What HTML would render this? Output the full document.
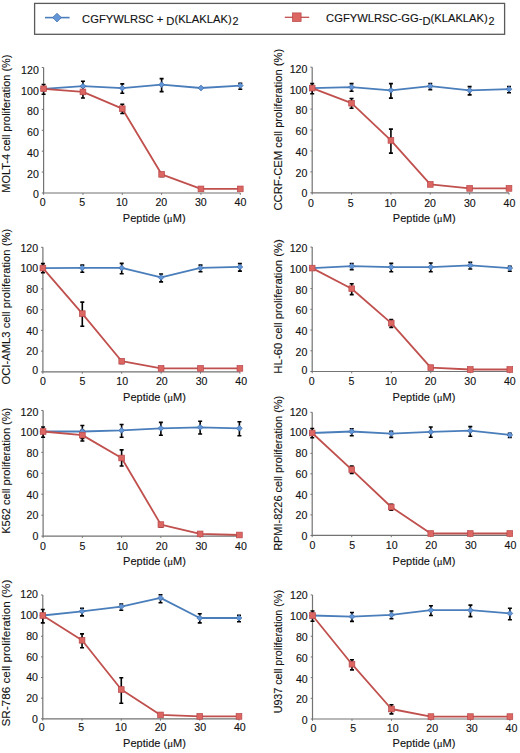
<!DOCTYPE html>
<html><head><meta charset="utf-8"><title>Figure</title>
<style>
html,body{margin:0;padding:0;background:#fff;}
body{width:520px;height:753px;overflow:hidden;}
svg{display:block;}
text{font-family:"Liberation Sans",sans-serif;fill:#111;stroke:#111;stroke-width:0.12px;}
.t{font-size:10.6px;}
.xl{font-size:11px;}
.yl{font-size:11px;}
.lg{font-size:11.2px;}
.sub{font-size:10.8px;}
.mu{font-family:"Liberation Serif",serif;}
</style></head>
<body>
<svg width="520" height="753" viewBox="0 0 520 753">
<rect width="520" height="753" fill="#fff"/>

<rect x="34.6" y="3.4" width="470" height="30.9" fill="#fff" stroke="#5a5a5a" stroke-width="1.3"/>
<path d="M45 17.6H69.6" stroke="#4a7ebb" stroke-width="1.6"/>
<path d="M57 13.2L61.4 17.6L57 22L52.6 17.6Z" fill="#6396d6" stroke="#3d6cab" stroke-width="0.7"/>
<text x="82.1" y="22.5" class="lg">CGFYWLRSC + <tspan dy="2.7">D</tspan><tspan dy="-2.7">(KLAKLAK)</tspan><tspan class="sub" dx="0.8" dy="2.2">2</tspan></text>
<path d="M284.8 17.3H309.2" stroke="#c0504d" stroke-width="1.3"/>
<rect x="292.4" y="12.9" width="8.7" height="8.7" fill="#dc6662" stroke="#b8474a" stroke-width="0.7"/>
<text x="326.1" y="22.1" class="lg">CGFYWLRSC-GG-<tspan dy="3.2">D</tspan><tspan dy="-3.2">(KLAKLAK)</tspan><tspan class="sub" dx="0.8" dy="2.6">2</tspan></text>

<path d="M43.6 67.5V193H240.3" fill="none" stroke="#737373" stroke-width="1.2"/>
<path d="M41.8 67.5h1.8M41.8 88.42h1.8M41.8 109.33h1.8M41.8 130.25h1.8M41.8 151.17h1.8M41.8 172.08h1.8M41.8 193h1.8M43.6 193v1.8M82.94 193v1.8M122.28 193v1.8M161.62 193v1.8M200.96 193v1.8M240.3 193v1.8" stroke="#737373" stroke-width="1"/>
<text x="38.8" y="74" class="t" text-anchor="end">120</text>
<text x="38.8" y="94.7" class="t" text-anchor="end">100</text>
<text x="38.8" y="115.4" class="t" text-anchor="end">80</text>
<text x="38.8" y="136.1" class="t" text-anchor="end">60</text>
<text x="38.8" y="156.8" class="t" text-anchor="end">40</text>
<text x="38.8" y="177.5" class="t" text-anchor="end">20</text>
<text x="38.8" y="198.1" class="t" text-anchor="end">0</text>
<text x="42.7" y="206.4" class="t" text-anchor="middle">0</text>
<text x="82.24" y="206.4" class="t" text-anchor="middle">5</text>
<text x="121.78" y="206.4" class="t" text-anchor="middle">10</text>
<text x="161.32" y="206.4" class="t" text-anchor="middle">20</text>
<text x="200.86" y="206.4" class="t" text-anchor="middle">30</text>
<text x="240.4" y="206.4" class="t" text-anchor="middle">40</text>
<text x="154.2" y="221.6" class="xl" text-anchor="middle">Peptide (<tspan class="mu">μ</tspan>M)</text>
<text transform="translate(9.9 123.65) rotate(-90)" x="0" y="0" text-anchor="middle" style="font-size:10.91px" class="yl">MOLT-4 cell proliferation (%)</text>
<path d="M43.6 88.8 L82.94 86.2 L122.28 88.1 L161.62 84.7 L200.96 88 L240.3 85.6" fill="none" stroke="#4a7ebb" stroke-width="1.8" stroke-linejoin="round"/>
<path d="M43.6 88.8 L82.94 91.9 L122.28 108.7 L161.62 174.3 L200.96 188.9 L240.3 188.9" fill="none" stroke="#c0504d" stroke-width="1.8" stroke-linejoin="round"/>
<path d="M82.94 81.2V92" stroke="#000" stroke-width="1.6" fill="none"/>
<path d="M80.94 81.2h4M80.94 92h4" stroke="#000" stroke-width="1.6" fill="none"/>
<path d="M122.28 83.9V93.3" stroke="#000" stroke-width="1.6" fill="none"/>
<path d="M120.28 83.9h4M120.28 93.3h4" stroke="#000" stroke-width="1.6" fill="none"/>
<path d="M161.62 78.6V91.6" stroke="#000" stroke-width="1.6" fill="none"/>
<path d="M159.62 78.6h4M159.62 91.6h4" stroke="#000" stroke-width="1.6" fill="none"/>
<path d="M240.3 83.2V89.3" stroke="#000" stroke-width="1.6" fill="none"/>
<path d="M238.3 83.2h4M238.3 89.3h4" stroke="#000" stroke-width="1.6" fill="none"/>
<path d="M43.6 84.5V94.2" stroke="#000" stroke-width="1.6" fill="none"/>
<path d="M41.6 84.5h4M41.6 94.2h4" stroke="#000" stroke-width="1.6" fill="none"/>
<path d="M82.94 86.6V98" stroke="#000" stroke-width="1.6" fill="none"/>
<path d="M80.94 86.6h4M80.94 98h4" stroke="#000" stroke-width="1.6" fill="none"/>
<path d="M122.28 104.3V113.5" stroke="#000" stroke-width="1.6" fill="none"/>
<path d="M120.28 104.3h4M120.28 113.5h4" stroke="#000" stroke-width="1.6" fill="none"/>
<path d="M161.62 172.8V176.5" stroke="#000" stroke-width="1.6" fill="none"/>
<path d="M159.62 172.8h4M159.62 176.5h4" stroke="#000" stroke-width="1.6" fill="none"/>
<path d="M43.6 85.9L46.5 88.8L43.6 91.7L40.7 88.8Z" fill="#6396d6" stroke="#3d6cab" stroke-width="0.7"/>
<path d="M82.94 83.3L85.84 86.2L82.94 89.1L80.04 86.2Z" fill="#6396d6" stroke="#3d6cab" stroke-width="0.7"/>
<path d="M122.28 85.2L125.18 88.1L122.28 91L119.38 88.1Z" fill="#6396d6" stroke="#3d6cab" stroke-width="0.7"/>
<path d="M161.62 81.8L164.52 84.7L161.62 87.6L158.72 84.7Z" fill="#6396d6" stroke="#3d6cab" stroke-width="0.7"/>
<path d="M200.96 85.1L203.86 88L200.96 90.9L198.06 88Z" fill="#6396d6" stroke="#3d6cab" stroke-width="0.7"/>
<path d="M240.3 82.7L243.2 85.6L240.3 88.5L237.4 85.6Z" fill="#6396d6" stroke="#3d6cab" stroke-width="0.7"/>
<rect x="40.75" y="85.95" width="5.7" height="5.7" fill="#dc6662" stroke="#b8474a" stroke-width="0.7"/>
<rect x="80.09" y="89.05" width="5.7" height="5.7" fill="#dc6662" stroke="#b8474a" stroke-width="0.7"/>
<rect x="119.43" y="105.85" width="5.7" height="5.7" fill="#dc6662" stroke="#b8474a" stroke-width="0.7"/>
<rect x="158.77" y="171.45" width="5.7" height="5.7" fill="#dc6662" stroke="#b8474a" stroke-width="0.7"/>
<rect x="198.11" y="186.05" width="5.7" height="5.7" fill="#dc6662" stroke="#b8474a" stroke-width="0.7"/>
<rect x="237.45" y="186.05" width="5.7" height="5.7" fill="#dc6662" stroke="#b8474a" stroke-width="0.7"/>
<path d="M312.2 67.2V192.8H509" fill="none" stroke="#737373" stroke-width="1.2"/>
<path d="M310.4 67.2h1.8M310.4 88.13h1.8M310.4 109.07h1.8M310.4 130h1.8M310.4 150.93h1.8M310.4 171.87h1.8M310.4 192.8h1.8M312.2 192.8v1.8M351.56 192.8v1.8M390.92 192.8v1.8M430.28 192.8v1.8M469.64 192.8v1.8M509 192.8v1.8" stroke="#737373" stroke-width="1"/>
<text x="307.4" y="72.8" class="t" text-anchor="end">120</text>
<text x="307.4" y="93.54" class="t" text-anchor="end">100</text>
<text x="307.4" y="114.28" class="t" text-anchor="end">80</text>
<text x="307.4" y="135.02" class="t" text-anchor="end">60</text>
<text x="307.4" y="155.76" class="t" text-anchor="end">40</text>
<text x="307.4" y="176.5" class="t" text-anchor="end">20</text>
<text x="307.4" y="197" class="t" text-anchor="end">0</text>
<text x="311" y="206.7" class="t" text-anchor="middle">0</text>
<text x="350.7" y="206.7" class="t" text-anchor="middle">5</text>
<text x="390.4" y="206.7" class="t" text-anchor="middle">10</text>
<text x="430.1" y="206.7" class="t" text-anchor="middle">20</text>
<text x="469.8" y="206.7" class="t" text-anchor="middle">30</text>
<text x="509.5" y="206.7" class="t" text-anchor="middle">40</text>
<text x="424.2" y="221.8" class="xl" text-anchor="middle">Peptide (<tspan class="mu">μ</tspan>M)</text>
<text transform="translate(281.8 129.7) rotate(-90)" x="0" y="0" text-anchor="middle" style="font-size:11.2px" class="yl">CCRF-CEM cell proliferation (%)</text>
<path d="M312.2 88.1 L351.56 87.1 L390.92 90.3 L430.28 86.2 L469.64 90.3 L509 89.2" fill="none" stroke="#4a7ebb" stroke-width="1.8" stroke-linejoin="round"/>
<path d="M312.2 88.1 L351.56 103.2 L390.92 140.4 L430.28 184.4 L469.64 188.4 L509 188.4" fill="none" stroke="#c0504d" stroke-width="1.8" stroke-linejoin="round"/>
<path d="M351.56 83.6V91.3" stroke="#000" stroke-width="1.6" fill="none"/>
<path d="M349.56 83.6h4M349.56 91.3h4" stroke="#000" stroke-width="1.6" fill="none"/>
<path d="M390.92 83.6V98.1" stroke="#000" stroke-width="1.6" fill="none"/>
<path d="M388.92 83.6h4M388.92 98.1h4" stroke="#000" stroke-width="1.6" fill="none"/>
<path d="M430.28 83.6V89.6" stroke="#000" stroke-width="1.6" fill="none"/>
<path d="M428.28 83.6h4M428.28 89.6h4" stroke="#000" stroke-width="1.6" fill="none"/>
<path d="M469.64 86.6V94.9" stroke="#000" stroke-width="1.6" fill="none"/>
<path d="M467.64 86.6h4M467.64 94.9h4" stroke="#000" stroke-width="1.6" fill="none"/>
<path d="M509 86.6V92.8" stroke="#000" stroke-width="1.6" fill="none"/>
<path d="M507 86.6h4M507 92.8h4" stroke="#000" stroke-width="1.6" fill="none"/>
<path d="M312.2 83.6V93.8" stroke="#000" stroke-width="1.6" fill="none"/>
<path d="M310.2 83.6h4M310.2 93.8h4" stroke="#000" stroke-width="1.6" fill="none"/>
<path d="M351.56 98.5V108.2" stroke="#000" stroke-width="1.6" fill="none"/>
<path d="M349.56 98.5h4M349.56 108.2h4" stroke="#000" stroke-width="1.6" fill="none"/>
<path d="M390.92 129.1V153.1" stroke="#000" stroke-width="1.6" fill="none"/>
<path d="M388.92 129.1h4M388.92 153.1h4" stroke="#000" stroke-width="1.6" fill="none"/>
<path d="M312.2 85.2L315.1 88.1L312.2 91L309.3 88.1Z" fill="#6396d6" stroke="#3d6cab" stroke-width="0.7"/>
<path d="M351.56 84.2L354.46 87.1L351.56 90L348.66 87.1Z" fill="#6396d6" stroke="#3d6cab" stroke-width="0.7"/>
<path d="M390.92 87.4L393.82 90.3L390.92 93.2L388.02 90.3Z" fill="#6396d6" stroke="#3d6cab" stroke-width="0.7"/>
<path d="M430.28 83.3L433.18 86.2L430.28 89.1L427.38 86.2Z" fill="#6396d6" stroke="#3d6cab" stroke-width="0.7"/>
<path d="M469.64 87.4L472.54 90.3L469.64 93.2L466.74 90.3Z" fill="#6396d6" stroke="#3d6cab" stroke-width="0.7"/>
<path d="M509 86.3L511.9 89.2L509 92.1L506.1 89.2Z" fill="#6396d6" stroke="#3d6cab" stroke-width="0.7"/>
<rect x="309.35" y="85.25" width="5.7" height="5.7" fill="#dc6662" stroke="#b8474a" stroke-width="0.7"/>
<rect x="348.71" y="100.35" width="5.7" height="5.7" fill="#dc6662" stroke="#b8474a" stroke-width="0.7"/>
<rect x="388.07" y="137.55" width="5.7" height="5.7" fill="#dc6662" stroke="#b8474a" stroke-width="0.7"/>
<rect x="427.43" y="181.55" width="5.7" height="5.7" fill="#dc6662" stroke="#b8474a" stroke-width="0.7"/>
<rect x="466.79" y="185.55" width="5.7" height="5.7" fill="#dc6662" stroke="#b8474a" stroke-width="0.7"/>
<rect x="506.15" y="185.55" width="5.7" height="5.7" fill="#dc6662" stroke="#b8474a" stroke-width="0.7"/>
<path d="M42.9 247.3V371.9H239.9" fill="none" stroke="#737373" stroke-width="1.2"/>
<path d="M41.1 247.3h1.8M41.1 268.07h1.8M41.1 288.83h1.8M41.1 309.6h1.8M41.1 330.37h1.8M41.1 351.13h1.8M41.1 371.9h1.8M42.9 371.9v1.8M82.3 371.9v1.8M121.7 371.9v1.8M161.1 371.9v1.8M200.5 371.9v1.8M239.9 371.9v1.8" stroke="#737373" stroke-width="1"/>
<text x="38.1" y="251.7" class="t" text-anchor="end">120</text>
<text x="38.1" y="272.44" class="t" text-anchor="end">100</text>
<text x="38.1" y="293.18" class="t" text-anchor="end">80</text>
<text x="38.1" y="313.92" class="t" text-anchor="end">60</text>
<text x="38.1" y="334.66" class="t" text-anchor="end">40</text>
<text x="38.1" y="355.4" class="t" text-anchor="end">20</text>
<text x="38.1" y="374.3" class="t" text-anchor="end">0</text>
<text x="42.9" y="384.6" class="t" text-anchor="middle">0</text>
<text x="82.56" y="384.6" class="t" text-anchor="middle">5</text>
<text x="122.22" y="384.6" class="t" text-anchor="middle">10</text>
<text x="161.88" y="384.6" class="t" text-anchor="middle">20</text>
<text x="201.54" y="384.6" class="t" text-anchor="middle">30</text>
<text x="241.2" y="384.6" class="t" text-anchor="middle">40</text>
<text x="154.5" y="400.8" class="xl" text-anchor="middle">Peptide (<tspan class="mu">μ</tspan>M)</text>
<text transform="translate(9.9 306.7) rotate(-90)" x="0" y="0" text-anchor="middle" style="font-size:11.26px" class="yl">OCI-AML3 cell proliferation (%)</text>
<path d="M42.9 268.1 L82.3 267.9 L121.7 267.9 L161.1 277.4 L200.5 267.9 L239.9 266.9" fill="none" stroke="#4a7ebb" stroke-width="1.8" stroke-linejoin="round"/>
<path d="M42.9 268.1 L82.3 313.6 L121.7 361.2 L161.1 368.4 L200.5 368.4 L239.9 368.4" fill="none" stroke="#c0504d" stroke-width="1.8" stroke-linejoin="round"/>
<path d="M82.3 265.1V272.2" stroke="#000" stroke-width="1.6" fill="none"/>
<path d="M80.3 265.1h4M80.3 272.2h4" stroke="#000" stroke-width="1.6" fill="none"/>
<path d="M121.7 263.4V273.8" stroke="#000" stroke-width="1.6" fill="none"/>
<path d="M119.7 263.4h4M119.7 273.8h4" stroke="#000" stroke-width="1.6" fill="none"/>
<path d="M161.1 274V281.9" stroke="#000" stroke-width="1.6" fill="none"/>
<path d="M159.1 274h4M159.1 281.9h4" stroke="#000" stroke-width="1.6" fill="none"/>
<path d="M200.5 265.1V271.7" stroke="#000" stroke-width="1.6" fill="none"/>
<path d="M198.5 265.1h4M198.5 271.7h4" stroke="#000" stroke-width="1.6" fill="none"/>
<path d="M239.9 263.6V271.1" stroke="#000" stroke-width="1.6" fill="none"/>
<path d="M237.9 263.6h4M237.9 271.1h4" stroke="#000" stroke-width="1.6" fill="none"/>
<path d="M42.9 263.6V272.8" stroke="#000" stroke-width="1.6" fill="none"/>
<path d="M40.9 263.6h4M40.9 272.8h4" stroke="#000" stroke-width="1.6" fill="none"/>
<path d="M82.3 302.1V326.3" stroke="#000" stroke-width="1.6" fill="none"/>
<path d="M80.3 302.1h4M80.3 326.3h4" stroke="#000" stroke-width="1.6" fill="none"/>
<path d="M121.7 359.8V363.5" stroke="#000" stroke-width="1.6" fill="none"/>
<path d="M119.7 359.8h4M119.7 363.5h4" stroke="#000" stroke-width="1.6" fill="none"/>
<path d="M42.9 265.2L45.8 268.1L42.9 271L40 268.1Z" fill="#6396d6" stroke="#3d6cab" stroke-width="0.7"/>
<path d="M82.3 265L85.2 267.9L82.3 270.8L79.4 267.9Z" fill="#6396d6" stroke="#3d6cab" stroke-width="0.7"/>
<path d="M121.7 265L124.6 267.9L121.7 270.8L118.8 267.9Z" fill="#6396d6" stroke="#3d6cab" stroke-width="0.7"/>
<path d="M161.1 274.5L164 277.4L161.1 280.3L158.2 277.4Z" fill="#6396d6" stroke="#3d6cab" stroke-width="0.7"/>
<path d="M200.5 265L203.4 267.9L200.5 270.8L197.6 267.9Z" fill="#6396d6" stroke="#3d6cab" stroke-width="0.7"/>
<path d="M239.9 264L242.8 266.9L239.9 269.8L237 266.9Z" fill="#6396d6" stroke="#3d6cab" stroke-width="0.7"/>
<rect x="40.05" y="265.25" width="5.7" height="5.7" fill="#dc6662" stroke="#b8474a" stroke-width="0.7"/>
<rect x="79.45" y="310.75" width="5.7" height="5.7" fill="#dc6662" stroke="#b8474a" stroke-width="0.7"/>
<rect x="118.85" y="358.35" width="5.7" height="5.7" fill="#dc6662" stroke="#b8474a" stroke-width="0.7"/>
<rect x="158.25" y="365.55" width="5.7" height="5.7" fill="#dc6662" stroke="#b8474a" stroke-width="0.7"/>
<rect x="197.65" y="365.55" width="5.7" height="5.7" fill="#dc6662" stroke="#b8474a" stroke-width="0.7"/>
<rect x="237.05" y="365.55" width="5.7" height="5.7" fill="#dc6662" stroke="#b8474a" stroke-width="0.7"/>
<path d="M312.2 247.1V371.5H509.8" fill="none" stroke="#737373" stroke-width="1.2"/>
<path d="M310.4 247.1h1.8M310.4 267.83h1.8M310.4 288.57h1.8M310.4 309.3h1.8M310.4 330.03h1.8M310.4 350.77h1.8M310.4 371.5h1.8M312.2 371.5v1.8M351.72 371.5v1.8M391.24 371.5v1.8M430.76 371.5v1.8M470.28 371.5v1.8M509.8 371.5v1.8" stroke="#737373" stroke-width="1"/>
<text x="307.4" y="252.1" class="t" text-anchor="end">120</text>
<text x="307.4" y="272.8" class="t" text-anchor="end">100</text>
<text x="307.4" y="293.5" class="t" text-anchor="end">80</text>
<text x="307.4" y="314.2" class="t" text-anchor="end">60</text>
<text x="307.4" y="334.9" class="t" text-anchor="end">40</text>
<text x="307.4" y="355.6" class="t" text-anchor="end">20</text>
<text x="307.4" y="374.3" class="t" text-anchor="end">0</text>
<text x="311.8" y="384.8" class="t" text-anchor="middle">0</text>
<text x="351.4" y="384.8" class="t" text-anchor="middle">5</text>
<text x="391" y="384.8" class="t" text-anchor="middle">10</text>
<text x="430.6" y="384.8" class="t" text-anchor="middle">20</text>
<text x="470.2" y="384.8" class="t" text-anchor="middle">30</text>
<text x="509.8" y="384.8" class="t" text-anchor="middle">40</text>
<text x="424" y="400.6" class="xl" text-anchor="middle">Peptide (<tspan class="mu">μ</tspan>M)</text>
<text transform="translate(281.8 306.4) rotate(-90)" x="0" y="0" text-anchor="middle" style="font-size:11.36px" class="yl">HL-60 cell proliferation (%)</text>
<path d="M312.2 268.1 L351.72 266.2 L391.24 267.1 L430.76 267.1 L470.28 265.4 L509.8 268.1" fill="none" stroke="#4a7ebb" stroke-width="1.8" stroke-linejoin="round"/>
<path d="M312.2 268.1 L351.72 288.7 L391.24 323.1 L430.76 367.6 L470.28 369.5 L509.8 369.5" fill="none" stroke="#c0504d" stroke-width="1.8" stroke-linejoin="round"/>
<path d="M351.72 263.6V269.6" stroke="#000" stroke-width="1.6" fill="none"/>
<path d="M349.72 263.6h4M349.72 269.6h4" stroke="#000" stroke-width="1.6" fill="none"/>
<path d="M391.24 263.4V271.7" stroke="#000" stroke-width="1.6" fill="none"/>
<path d="M389.24 263.4h4M389.24 271.7h4" stroke="#000" stroke-width="1.6" fill="none"/>
<path d="M430.76 263V271.7" stroke="#000" stroke-width="1.6" fill="none"/>
<path d="M428.76 263h4M428.76 271.7h4" stroke="#000" stroke-width="1.6" fill="none"/>
<path d="M470.28 262.4V269" stroke="#000" stroke-width="1.6" fill="none"/>
<path d="M468.28 262.4h4M468.28 269h4" stroke="#000" stroke-width="1.6" fill="none"/>
<path d="M509.8 266.2V271.3" stroke="#000" stroke-width="1.6" fill="none"/>
<path d="M507.8 266.2h4M507.8 271.3h4" stroke="#000" stroke-width="1.6" fill="none"/>
<path d="M351.72 283.7V294.6" stroke="#000" stroke-width="1.6" fill="none"/>
<path d="M349.72 283.7h4M349.72 294.6h4" stroke="#000" stroke-width="1.6" fill="none"/>
<path d="M391.24 319.5V327.4" stroke="#000" stroke-width="1.6" fill="none"/>
<path d="M389.24 319.5h4M389.24 327.4h4" stroke="#000" stroke-width="1.6" fill="none"/>
<path d="M312.2 265.2L315.1 268.1L312.2 271L309.3 268.1Z" fill="#6396d6" stroke="#3d6cab" stroke-width="0.7"/>
<path d="M351.72 263.3L354.62 266.2L351.72 269.1L348.82 266.2Z" fill="#6396d6" stroke="#3d6cab" stroke-width="0.7"/>
<path d="M391.24 264.2L394.14 267.1L391.24 270L388.34 267.1Z" fill="#6396d6" stroke="#3d6cab" stroke-width="0.7"/>
<path d="M430.76 264.2L433.66 267.1L430.76 270L427.86 267.1Z" fill="#6396d6" stroke="#3d6cab" stroke-width="0.7"/>
<path d="M470.28 262.5L473.18 265.4L470.28 268.3L467.38 265.4Z" fill="#6396d6" stroke="#3d6cab" stroke-width="0.7"/>
<path d="M509.8 265.2L512.7 268.1L509.8 271L506.9 268.1Z" fill="#6396d6" stroke="#3d6cab" stroke-width="0.7"/>
<rect x="309.35" y="265.25" width="5.7" height="5.7" fill="#dc6662" stroke="#b8474a" stroke-width="0.7"/>
<rect x="348.87" y="285.85" width="5.7" height="5.7" fill="#dc6662" stroke="#b8474a" stroke-width="0.7"/>
<rect x="388.39" y="320.25" width="5.7" height="5.7" fill="#dc6662" stroke="#b8474a" stroke-width="0.7"/>
<rect x="427.91" y="364.75" width="5.7" height="5.7" fill="#dc6662" stroke="#b8474a" stroke-width="0.7"/>
<rect x="467.43" y="366.65" width="5.7" height="5.7" fill="#dc6662" stroke="#b8474a" stroke-width="0.7"/>
<rect x="506.95" y="366.65" width="5.7" height="5.7" fill="#dc6662" stroke="#b8474a" stroke-width="0.7"/>
<path d="M43.1 410.5V536.1H239.4" fill="none" stroke="#737373" stroke-width="1.2"/>
<path d="M41.3 410.5h1.8M41.3 431.43h1.8M41.3 452.37h1.8M41.3 473.3h1.8M41.3 494.23h1.8M41.3 515.17h1.8M41.3 536.1h1.8M43.1 536.1v1.8M82.36 536.1v1.8M121.62 536.1v1.8M160.88 536.1v1.8M200.14 536.1v1.8M239.4 536.1v1.8" stroke="#737373" stroke-width="1"/>
<text x="38.3" y="415.7" class="t" text-anchor="end">120</text>
<text x="38.3" y="436.4" class="t" text-anchor="end">100</text>
<text x="38.3" y="457.1" class="t" text-anchor="end">80</text>
<text x="38.3" y="477.8" class="t" text-anchor="end">60</text>
<text x="38.3" y="498.5" class="t" text-anchor="end">40</text>
<text x="38.3" y="519.2" class="t" text-anchor="end">20</text>
<text x="38.3" y="540" class="t" text-anchor="end">0</text>
<text x="42.9" y="549.6" class="t" text-anchor="middle">0</text>
<text x="82.5" y="549.6" class="t" text-anchor="middle">5</text>
<text x="122.1" y="549.6" class="t" text-anchor="middle">10</text>
<text x="161.7" y="549.6" class="t" text-anchor="middle">20</text>
<text x="201.3" y="549.6" class="t" text-anchor="middle">30</text>
<text x="240.9" y="549.6" class="t" text-anchor="middle">40</text>
<text x="154.5" y="565" class="xl" text-anchor="middle">Peptide (<tspan class="mu">μ</tspan>M)</text>
<text transform="translate(9.9 470.75) rotate(-90)" x="0" y="0" text-anchor="middle" style="font-size:11px" class="yl">K562 cell proliferation (%)</text>
<path d="M43.1 431.5 L82.36 431.5 L121.62 430.4 L160.88 428.3 L200.14 427.3 L239.4 428.3" fill="none" stroke="#4a7ebb" stroke-width="1.8" stroke-linejoin="round"/>
<path d="M43.1 431.5 L82.36 435.1 L121.62 458 L160.88 524.6 L200.14 533.9 L239.4 535" fill="none" stroke="#c0504d" stroke-width="1.8" stroke-linejoin="round"/>
<path d="M82.36 425.5V438.5" stroke="#000" stroke-width="1.6" fill="none"/>
<path d="M80.36 425.5h4M80.36 438.5h4" stroke="#000" stroke-width="1.6" fill="none"/>
<path d="M121.62 424.5V437.2" stroke="#000" stroke-width="1.6" fill="none"/>
<path d="M119.62 424.5h4M119.62 437.2h4" stroke="#000" stroke-width="1.6" fill="none"/>
<path d="M160.88 422.4V435.3" stroke="#000" stroke-width="1.6" fill="none"/>
<path d="M158.88 422.4h4M158.88 435.3h4" stroke="#000" stroke-width="1.6" fill="none"/>
<path d="M200.14 421.3V434" stroke="#000" stroke-width="1.6" fill="none"/>
<path d="M198.14 421.3h4M198.14 434h4" stroke="#000" stroke-width="1.6" fill="none"/>
<path d="M239.4 421.7V435.7" stroke="#000" stroke-width="1.6" fill="none"/>
<path d="M237.4 421.7h4M237.4 435.7h4" stroke="#000" stroke-width="1.6" fill="none"/>
<path d="M43.1 427V437.2" stroke="#000" stroke-width="1.6" fill="none"/>
<path d="M41.1 427h4M41.1 437.2h4" stroke="#000" stroke-width="1.6" fill="none"/>
<path d="M82.36 430.3V441" stroke="#000" stroke-width="1.6" fill="none"/>
<path d="M80.36 430.3h4M80.36 441h4" stroke="#000" stroke-width="1.6" fill="none"/>
<path d="M121.62 449.9V466" stroke="#000" stroke-width="1.6" fill="none"/>
<path d="M119.62 449.9h4M119.62 466h4" stroke="#000" stroke-width="1.6" fill="none"/>
<path d="M160.88 522.8V527" stroke="#000" stroke-width="1.6" fill="none"/>
<path d="M158.88 522.8h4M158.88 527h4" stroke="#000" stroke-width="1.6" fill="none"/>
<path d="M43.1 428.6L46 431.5L43.1 434.4L40.2 431.5Z" fill="#6396d6" stroke="#3d6cab" stroke-width="0.7"/>
<path d="M82.36 428.6L85.26 431.5L82.36 434.4L79.46 431.5Z" fill="#6396d6" stroke="#3d6cab" stroke-width="0.7"/>
<path d="M121.62 427.5L124.52 430.4L121.62 433.3L118.72 430.4Z" fill="#6396d6" stroke="#3d6cab" stroke-width="0.7"/>
<path d="M160.88 425.4L163.78 428.3L160.88 431.2L157.98 428.3Z" fill="#6396d6" stroke="#3d6cab" stroke-width="0.7"/>
<path d="M200.14 424.4L203.04 427.3L200.14 430.2L197.24 427.3Z" fill="#6396d6" stroke="#3d6cab" stroke-width="0.7"/>
<path d="M239.4 425.4L242.3 428.3L239.4 431.2L236.5 428.3Z" fill="#6396d6" stroke="#3d6cab" stroke-width="0.7"/>
<rect x="40.25" y="428.65" width="5.7" height="5.7" fill="#dc6662" stroke="#b8474a" stroke-width="0.7"/>
<rect x="79.51" y="432.25" width="5.7" height="5.7" fill="#dc6662" stroke="#b8474a" stroke-width="0.7"/>
<rect x="118.77" y="455.15" width="5.7" height="5.7" fill="#dc6662" stroke="#b8474a" stroke-width="0.7"/>
<rect x="158.03" y="521.75" width="5.7" height="5.7" fill="#dc6662" stroke="#b8474a" stroke-width="0.7"/>
<rect x="197.29" y="531.05" width="5.7" height="5.7" fill="#dc6662" stroke="#b8474a" stroke-width="0.7"/>
<rect x="236.55" y="532.15" width="5.7" height="5.7" fill="#dc6662" stroke="#b8474a" stroke-width="0.7"/>
<path d="M312.2 412.3V535.4H509.8" fill="none" stroke="#737373" stroke-width="1.2"/>
<path d="M310.4 412.3h1.8M310.4 432.82h1.8M310.4 453.33h1.8M310.4 473.85h1.8M310.4 494.37h1.8M310.4 514.88h1.8M310.4 535.4h1.8M312.2 535.4v1.8M351.72 535.4v1.8M391.24 535.4v1.8M430.76 535.4v1.8M470.28 535.4v1.8M509.8 535.4v1.8" stroke="#737373" stroke-width="1"/>
<text x="307.4" y="415.7" class="t" text-anchor="end">120</text>
<text x="307.4" y="436.42" class="t" text-anchor="end">100</text>
<text x="307.4" y="457.14" class="t" text-anchor="end">80</text>
<text x="307.4" y="477.86" class="t" text-anchor="end">60</text>
<text x="307.4" y="498.58" class="t" text-anchor="end">40</text>
<text x="307.4" y="519.3" class="t" text-anchor="end">20</text>
<text x="307.4" y="540" class="t" text-anchor="end">0</text>
<text x="312.5" y="549.4" class="t" text-anchor="middle">0</text>
<text x="352.08" y="549.4" class="t" text-anchor="middle">5</text>
<text x="391.66" y="549.4" class="t" text-anchor="middle">10</text>
<text x="431.24" y="549.4" class="t" text-anchor="middle">20</text>
<text x="470.82" y="549.4" class="t" text-anchor="middle">30</text>
<text x="510.4" y="549.4" class="t" text-anchor="middle">40</text>
<text x="424" y="564.7" class="xl" text-anchor="middle">Peptide (<tspan class="mu">μ</tspan>M)</text>
<text transform="translate(281.8 473.35) rotate(-90)" x="0" y="0" text-anchor="middle" style="font-size:10.94px" class="yl">RPMI-8226 cell proliferation (%)</text>
<path d="M312.2 433 L351.72 431.5 L391.24 433.6 L430.76 431.9 L470.28 430.7 L509.8 434.9" fill="none" stroke="#4a7ebb" stroke-width="1.8" stroke-linejoin="round"/>
<path d="M312.2 433 L351.72 469.6 L391.24 507 L430.76 533.5 L470.28 533.5 L509.8 533.5" fill="none" stroke="#c0504d" stroke-width="1.8" stroke-linejoin="round"/>
<path d="M351.72 428.7V435.7" stroke="#000" stroke-width="1.6" fill="none"/>
<path d="M349.72 428.7h4M349.72 435.7h4" stroke="#000" stroke-width="1.6" fill="none"/>
<path d="M391.24 431.2V437.4" stroke="#000" stroke-width="1.6" fill="none"/>
<path d="M389.24 431.2h4M389.24 437.4h4" stroke="#000" stroke-width="1.6" fill="none"/>
<path d="M430.76 427V437.2" stroke="#000" stroke-width="1.6" fill="none"/>
<path d="M428.76 427h4M428.76 437.2h4" stroke="#000" stroke-width="1.6" fill="none"/>
<path d="M470.28 426.6V436.2" stroke="#000" stroke-width="1.6" fill="none"/>
<path d="M468.28 426.6h4M468.28 436.2h4" stroke="#000" stroke-width="1.6" fill="none"/>
<path d="M509.8 433.2V437.4" stroke="#000" stroke-width="1.6" fill="none"/>
<path d="M507.8 433.2h4M507.8 437.4h4" stroke="#000" stroke-width="1.6" fill="none"/>
<path d="M312.2 428.5V437.8" stroke="#000" stroke-width="1.6" fill="none"/>
<path d="M310.2 428.5h4M310.2 437.8h4" stroke="#000" stroke-width="1.6" fill="none"/>
<path d="M351.72 466.1V473.4" stroke="#000" stroke-width="1.6" fill="none"/>
<path d="M349.72 466.1h4M349.72 473.4h4" stroke="#000" stroke-width="1.6" fill="none"/>
<path d="M391.24 504.2V510.2" stroke="#000" stroke-width="1.6" fill="none"/>
<path d="M389.24 504.2h4M389.24 510.2h4" stroke="#000" stroke-width="1.6" fill="none"/>
<path d="M312.2 430.1L315.1 433L312.2 435.9L309.3 433Z" fill="#6396d6" stroke="#3d6cab" stroke-width="0.7"/>
<path d="M351.72 428.6L354.62 431.5L351.72 434.4L348.82 431.5Z" fill="#6396d6" stroke="#3d6cab" stroke-width="0.7"/>
<path d="M391.24 430.7L394.14 433.6L391.24 436.5L388.34 433.6Z" fill="#6396d6" stroke="#3d6cab" stroke-width="0.7"/>
<path d="M430.76 429L433.66 431.9L430.76 434.8L427.86 431.9Z" fill="#6396d6" stroke="#3d6cab" stroke-width="0.7"/>
<path d="M470.28 427.8L473.18 430.7L470.28 433.6L467.38 430.7Z" fill="#6396d6" stroke="#3d6cab" stroke-width="0.7"/>
<path d="M509.8 432L512.7 434.9L509.8 437.8L506.9 434.9Z" fill="#6396d6" stroke="#3d6cab" stroke-width="0.7"/>
<rect x="309.35" y="430.15" width="5.7" height="5.7" fill="#dc6662" stroke="#b8474a" stroke-width="0.7"/>
<rect x="348.87" y="466.75" width="5.7" height="5.7" fill="#dc6662" stroke="#b8474a" stroke-width="0.7"/>
<rect x="388.39" y="504.15" width="5.7" height="5.7" fill="#dc6662" stroke="#b8474a" stroke-width="0.7"/>
<rect x="427.91" y="530.65" width="5.7" height="5.7" fill="#dc6662" stroke="#b8474a" stroke-width="0.7"/>
<rect x="467.43" y="530.65" width="5.7" height="5.7" fill="#dc6662" stroke="#b8474a" stroke-width="0.7"/>
<rect x="506.95" y="530.65" width="5.7" height="5.7" fill="#dc6662" stroke="#b8474a" stroke-width="0.7"/>
<path d="M42.8 595V718.8H239" fill="none" stroke="#737373" stroke-width="1.2"/>
<path d="M41 595h1.8M41 615.63h1.8M41 636.27h1.8M41 656.9h1.8M41 677.53h1.8M41 698.17h1.8M41 718.8h1.8M42.8 718.8v1.8M82.04 718.8v1.8M121.28 718.8v1.8M160.52 718.8v1.8M199.76 718.8v1.8M239 718.8v1.8" stroke="#737373" stroke-width="1"/>
<text x="38" y="598.3" class="t" text-anchor="end">120</text>
<text x="38" y="619.06" class="t" text-anchor="end">100</text>
<text x="38" y="639.82" class="t" text-anchor="end">80</text>
<text x="38" y="660.58" class="t" text-anchor="end">60</text>
<text x="38" y="681.34" class="t" text-anchor="end">40</text>
<text x="38" y="702.1" class="t" text-anchor="end">20</text>
<text x="38" y="722.8" class="t" text-anchor="end">0</text>
<text x="41.7" y="731.4" class="t" text-anchor="middle">0</text>
<text x="81.32" y="731.4" class="t" text-anchor="middle">5</text>
<text x="120.94" y="731.4" class="t" text-anchor="middle">10</text>
<text x="160.56" y="731.4" class="t" text-anchor="middle">20</text>
<text x="200.18" y="731.4" class="t" text-anchor="middle">30</text>
<text x="239.8" y="731.4" class="t" text-anchor="middle">40</text>
<text x="154.5" y="746.7" class="xl" text-anchor="middle">Peptide (<tspan class="mu">μ</tspan>M)</text>
<text transform="translate(9.9 653.15) rotate(-90)" x="0" y="0" text-anchor="middle" style="font-size:11.76px" class="yl">SR-786 cell proliferation (%)</text>
<path d="M42.8 615.5 L82.04 611.3 L121.28 606.6 L160.52 597.9 L199.76 618 L239 618" fill="none" stroke="#4a7ebb" stroke-width="1.8" stroke-linejoin="round"/>
<path d="M42.8 615.5 L82.04 640.3 L121.28 689.5 L160.52 714.9 L199.76 716.4 L239 716.4" fill="none" stroke="#c0504d" stroke-width="1.8" stroke-linejoin="round"/>
<path d="M82.04 608.3V615.9" stroke="#000" stroke-width="1.6" fill="none"/>
<path d="M80.04 608.3h4M80.04 615.9h4" stroke="#000" stroke-width="1.6" fill="none"/>
<path d="M121.28 604V610.2" stroke="#000" stroke-width="1.6" fill="none"/>
<path d="M119.28 604h4M119.28 610.2h4" stroke="#000" stroke-width="1.6" fill="none"/>
<path d="M160.52 594.7V602.8" stroke="#000" stroke-width="1.6" fill="none"/>
<path d="M158.52 594.7h4M158.52 602.8h4" stroke="#000" stroke-width="1.6" fill="none"/>
<path d="M199.76 613.8V622.9" stroke="#000" stroke-width="1.6" fill="none"/>
<path d="M197.76 613.8h4M197.76 622.9h4" stroke="#000" stroke-width="1.6" fill="none"/>
<path d="M239 615.2V621.8" stroke="#000" stroke-width="1.6" fill="none"/>
<path d="M237 615.2h4M237 621.8h4" stroke="#000" stroke-width="1.6" fill="none"/>
<path d="M42.8 609.5V622.9" stroke="#000" stroke-width="1.6" fill="none"/>
<path d="M40.8 609.5h4M40.8 622.9h4" stroke="#000" stroke-width="1.6" fill="none"/>
<path d="M82.04 633.9V647.7" stroke="#000" stroke-width="1.6" fill="none"/>
<path d="M80.04 633.9h4M80.04 647.7h4" stroke="#000" stroke-width="1.6" fill="none"/>
<path d="M121.28 677.7V703.3" stroke="#000" stroke-width="1.6" fill="none"/>
<path d="M119.28 677.7h4M119.28 703.3h4" stroke="#000" stroke-width="1.6" fill="none"/>
<path d="M42.8 612.6L45.7 615.5L42.8 618.4L39.9 615.5Z" fill="#6396d6" stroke="#3d6cab" stroke-width="0.7"/>
<path d="M82.04 608.4L84.94 611.3L82.04 614.2L79.14 611.3Z" fill="#6396d6" stroke="#3d6cab" stroke-width="0.7"/>
<path d="M121.28 603.7L124.18 606.6L121.28 609.5L118.38 606.6Z" fill="#6396d6" stroke="#3d6cab" stroke-width="0.7"/>
<path d="M160.52 595L163.42 597.9L160.52 600.8L157.62 597.9Z" fill="#6396d6" stroke="#3d6cab" stroke-width="0.7"/>
<path d="M199.76 615.1L202.66 618L199.76 620.9L196.86 618Z" fill="#6396d6" stroke="#3d6cab" stroke-width="0.7"/>
<path d="M239 615.1L241.9 618L239 620.9L236.1 618Z" fill="#6396d6" stroke="#3d6cab" stroke-width="0.7"/>
<rect x="39.95" y="612.65" width="5.7" height="5.7" fill="#dc6662" stroke="#b8474a" stroke-width="0.7"/>
<rect x="79.19" y="637.45" width="5.7" height="5.7" fill="#dc6662" stroke="#b8474a" stroke-width="0.7"/>
<rect x="118.43" y="686.65" width="5.7" height="5.7" fill="#dc6662" stroke="#b8474a" stroke-width="0.7"/>
<rect x="157.67" y="712.05" width="5.7" height="5.7" fill="#dc6662" stroke="#b8474a" stroke-width="0.7"/>
<rect x="196.91" y="713.55" width="5.7" height="5.7" fill="#dc6662" stroke="#b8474a" stroke-width="0.7"/>
<rect x="236.15" y="713.55" width="5.7" height="5.7" fill="#dc6662" stroke="#b8474a" stroke-width="0.7"/>
<path d="M312.5 594.9V719H509.9" fill="none" stroke="#737373" stroke-width="1.2"/>
<path d="M310.7 594.9h1.8M310.7 615.58h1.8M310.7 636.27h1.8M310.7 656.95h1.8M310.7 677.63h1.8M310.7 698.32h1.8M310.7 719h1.8M312.5 719v1.8M351.98 719v1.8M391.46 719v1.8M430.94 719v1.8M470.42 719v1.8M509.9 719v1.8" stroke="#737373" stroke-width="1"/>
<text x="307.7" y="599.3" class="t" text-anchor="end">120</text>
<text x="307.7" y="620.12" class="t" text-anchor="end">100</text>
<text x="307.7" y="640.94" class="t" text-anchor="end">80</text>
<text x="307.7" y="661.76" class="t" text-anchor="end">60</text>
<text x="307.7" y="682.58" class="t" text-anchor="end">40</text>
<text x="307.7" y="703.4" class="t" text-anchor="end">20</text>
<text x="307.7" y="723.7" class="t" text-anchor="end">0</text>
<text x="313.5" y="731.8" class="t" text-anchor="middle">0</text>
<text x="353.08" y="731.8" class="t" text-anchor="middle">5</text>
<text x="392.66" y="731.8" class="t" text-anchor="middle">10</text>
<text x="432.24" y="731.8" class="t" text-anchor="middle">20</text>
<text x="471.82" y="731.8" class="t" text-anchor="middle">30</text>
<text x="511.4" y="731.8" class="t" text-anchor="middle">40</text>
<text x="424" y="746.7" class="xl" text-anchor="middle">Peptide (<tspan class="mu">μ</tspan>M)</text>
<text transform="translate(281.8 651.7) rotate(-90)" x="0" y="0" text-anchor="middle" style="font-size:10.72px" class="yl">U937 cell proliferation (%)</text>
<path d="M312.5 615.5 L351.98 616.6 L391.46 614.9 L430.94 610.2 L470.42 610.2 L509.9 613.4" fill="none" stroke="#4a7ebb" stroke-width="1.8" stroke-linejoin="round"/>
<path d="M312.5 615.5 L351.98 664.2 L391.46 709 L430.94 716.6 L470.42 716.6 L509.9 716.6" fill="none" stroke="#c0504d" stroke-width="1.8" stroke-linejoin="round"/>
<path d="M351.98 612.5V621.4" stroke="#000" stroke-width="1.6" fill="none"/>
<path d="M349.98 612.5h4M349.98 621.4h4" stroke="#000" stroke-width="1.6" fill="none"/>
<path d="M391.46 611V618.7" stroke="#000" stroke-width="1.6" fill="none"/>
<path d="M389.46 611h4M389.46 618.7h4" stroke="#000" stroke-width="1.6" fill="none"/>
<path d="M430.94 605.7V615.5" stroke="#000" stroke-width="1.6" fill="none"/>
<path d="M428.94 605.7h4M428.94 615.5h4" stroke="#000" stroke-width="1.6" fill="none"/>
<path d="M470.42 605.1V616.6" stroke="#000" stroke-width="1.6" fill="none"/>
<path d="M468.42 605.1h4M468.42 616.6h4" stroke="#000" stroke-width="1.6" fill="none"/>
<path d="M509.9 608.3V619.7" stroke="#000" stroke-width="1.6" fill="none"/>
<path d="M507.9 608.3h4M507.9 619.7h4" stroke="#000" stroke-width="1.6" fill="none"/>
<path d="M312.5 611V621.2" stroke="#000" stroke-width="1.6" fill="none"/>
<path d="M310.5 611h4M310.5 621.2h4" stroke="#000" stroke-width="1.6" fill="none"/>
<path d="M351.98 659.7V669.9" stroke="#000" stroke-width="1.6" fill="none"/>
<path d="M349.98 659.7h4M349.98 669.9h4" stroke="#000" stroke-width="1.6" fill="none"/>
<path d="M391.46 704.7V713.9" stroke="#000" stroke-width="1.6" fill="none"/>
<path d="M389.46 704.7h4M389.46 713.9h4" stroke="#000" stroke-width="1.6" fill="none"/>
<path d="M312.5 612.6L315.4 615.5L312.5 618.4L309.6 615.5Z" fill="#6396d6" stroke="#3d6cab" stroke-width="0.7"/>
<path d="M351.98 613.7L354.88 616.6L351.98 619.5L349.08 616.6Z" fill="#6396d6" stroke="#3d6cab" stroke-width="0.7"/>
<path d="M391.46 612L394.36 614.9L391.46 617.8L388.56 614.9Z" fill="#6396d6" stroke="#3d6cab" stroke-width="0.7"/>
<path d="M430.94 607.3L433.84 610.2L430.94 613.1L428.04 610.2Z" fill="#6396d6" stroke="#3d6cab" stroke-width="0.7"/>
<path d="M470.42 607.3L473.32 610.2L470.42 613.1L467.52 610.2Z" fill="#6396d6" stroke="#3d6cab" stroke-width="0.7"/>
<path d="M509.9 610.5L512.8 613.4L509.9 616.3L507 613.4Z" fill="#6396d6" stroke="#3d6cab" stroke-width="0.7"/>
<rect x="309.65" y="612.65" width="5.7" height="5.7" fill="#dc6662" stroke="#b8474a" stroke-width="0.7"/>
<rect x="349.13" y="661.35" width="5.7" height="5.7" fill="#dc6662" stroke="#b8474a" stroke-width="0.7"/>
<rect x="388.61" y="706.15" width="5.7" height="5.7" fill="#dc6662" stroke="#b8474a" stroke-width="0.7"/>
<rect x="428.09" y="713.75" width="5.7" height="5.7" fill="#dc6662" stroke="#b8474a" stroke-width="0.7"/>
<rect x="467.57" y="713.75" width="5.7" height="5.7" fill="#dc6662" stroke="#b8474a" stroke-width="0.7"/>
<rect x="507.05" y="713.75" width="5.7" height="5.7" fill="#dc6662" stroke="#b8474a" stroke-width="0.7"/>
</svg>
</body></html>
